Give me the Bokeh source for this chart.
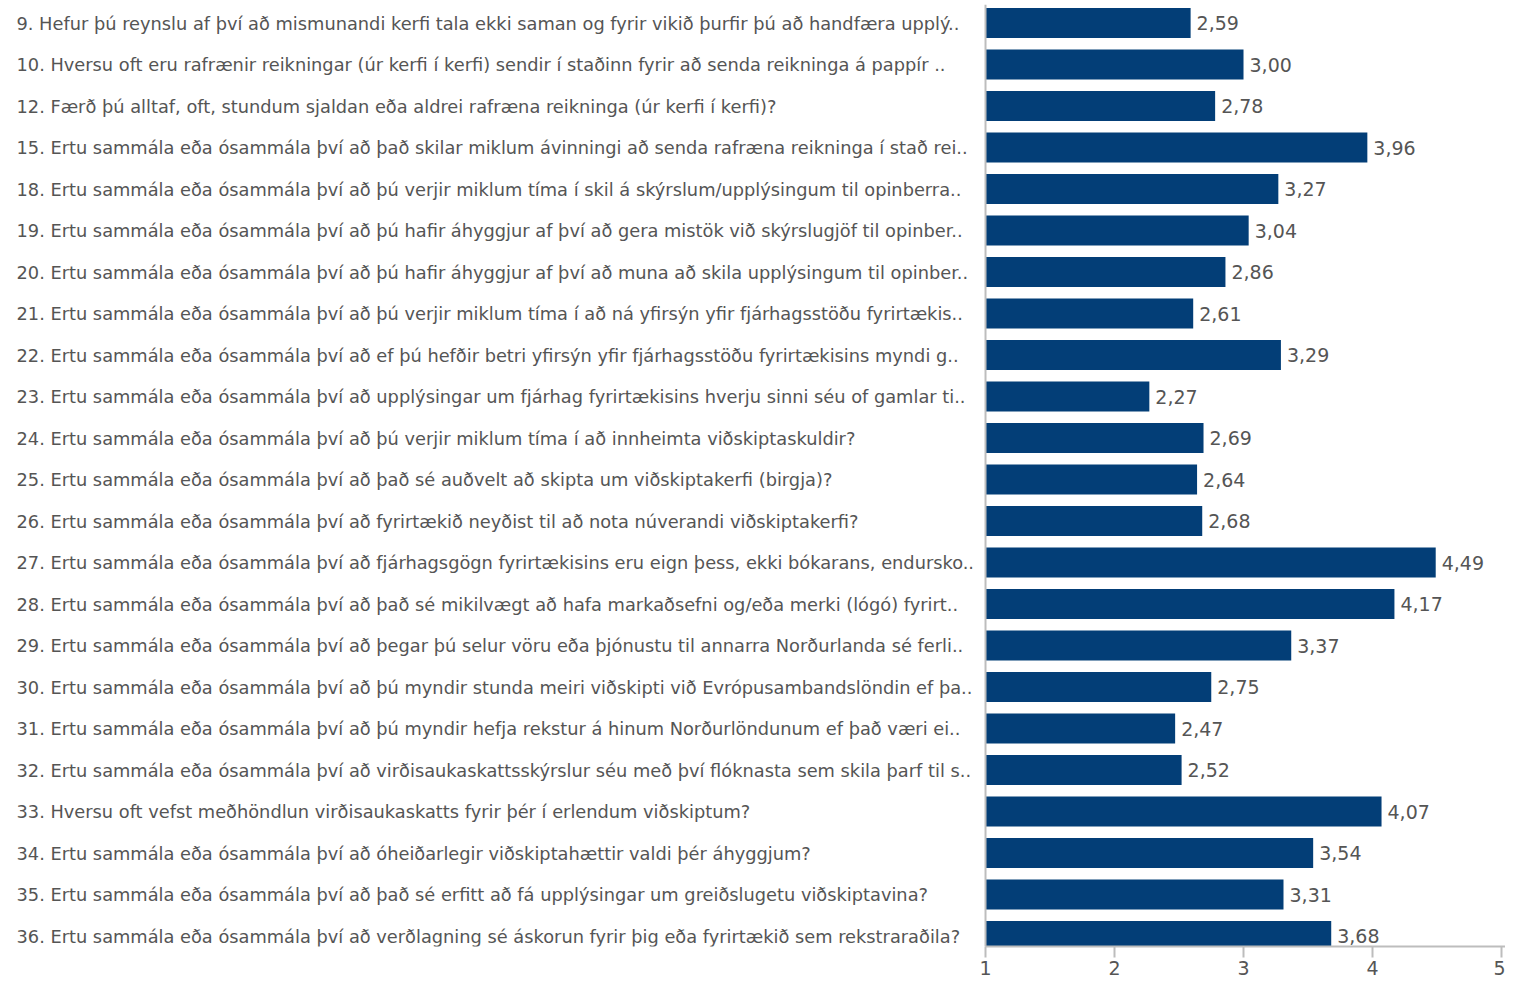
from bokeh.plotting import figure
from bokeh.models import ColumnDataSource, Range1d, FixedTicker, Span
from bokeh.core.properties import value
from bokeh.embed import file_html
from bokeh.resources import INLINE

questions = [
    "9. Hefur þú reynslu af því að mismunandi kerfi tala ekki saman og fyrir vikið þurfir þú að handfæra upplý..",
    "10. Hversu oft eru rafrænir reikningar (úr kerfi í kerfi) sendir í staðinn fyrir að senda reikninga á pappír ..",
    "12. Færð þú alltaf, oft, stundum sjaldan eða aldrei rafræna reikninga (úr kerfi í kerfi)?",
    "15. Ertu sammála eða ósammála því að það skilar miklum ávinningi að senda rafræna reikninga í stað rei..",
    "18. Ertu sammála eða ósammála því að þú verjir miklum tíma í skil á skýrslum/upplýsingum til opinberra..",
    "19. Ertu sammála eða ósammála því að þú hafir áhyggjur af því að gera mistök við skýrslugjöf til opinber..",
    "20. Ertu sammála eða ósammála því að þú hafir áhyggjur af því að muna að skila upplýsingum til opinber..",
    "21. Ertu sammála eða ósammála því að þú verjir miklum tíma í að ná yfirsýn yfir fjárhagsstöðu fyrirtækis..",
    "22. Ertu sammála eða ósammála því að ef þú hefðir betri yfirsýn yfir fjárhagsstöðu fyrirtækisins myndi g..",
    "23. Ertu sammála eða ósammála því að upplýsingar um fjárhag fyrirtækisins hverju sinni séu of gamlar ti..",
    "24. Ertu sammála eða ósammála því að þú verjir miklum tíma í að innheimta viðskiptaskuldir?",
    "25. Ertu sammála eða ósammála því að það sé auðvelt að skipta um viðskiptakerfi (birgja)?",
    "26. Ertu sammála eða ósammála því að fyrirtækið neyðist til að nota núverandi viðskiptakerfi?",
    "27. Ertu sammála eða ósammála því að fjárhagsgögn fyrirtækisins eru eign þess, ekki bókarans, endursko..",
    "28. Ertu sammála eða ósammála því að það sé mikilvægt að hafa markaðsefni og/eða merki (lógó) fyrirt..",
    "29. Ertu sammála eða ósammála því að þegar þú selur vöru eða þjónustu til annarra Norðurlanda sé ferli..",
    "30. Ertu sammála eða ósammála því að þú myndir stunda meiri viðskipti við Evrópusambandslöndin ef þa..",
    "31. Ertu sammála eða ósammála því að þú myndir hefja rekstur á hinum Norðurlöndunum ef það væri ei..",
    "32. Ertu sammála eða ósammála því að virðisaukaskattsskýrslur séu með því flóknasta sem skila þarf til s..",
    "33. Hversu oft vefst meðhöndlun virðisaukaskatts fyrir þér í erlendum viðskiptum?",
    "34. Ertu sammála eða ósammála því að óheiðarlegir viðskiptahættir valdi þér áhyggjum?",
    "35. Ertu sammála eða ósammála því að það sé erfitt að fá upplýsingar um greiðslugetu viðskiptavina?",
    "36. Ertu sammála eða ósammála því að verðlagning sé áskorun fyrir þig eða fyrirtækið sem rekstraraðila?",
]

scores = [2.59, 3.00, 2.78, 3.96, 3.27, 3.04, 2.86, 2.61, 3.29, 2.27, 2.69, 2.64,
          2.68, 4.49, 4.17, 3.37, 2.75, 2.47, 2.52, 4.07, 3.54, 3.31, 3.68]

x_ticks = [1, 2, 3, 4, 5]

FONT = "DejaVu Sans"
TEXT_COLOR = "#555555"
BAR_COLOR = "#033e77"
AXIS_COLOR = "#bdbdbd"

# x range: left part of the frame holds the question texts
X_START = -6.636
X_END = 5.031

pos = list(range(len(questions)))
src = ColumnDataSource(dict(
    y=pos,
    v=scores,
    q=questions,
    base=[x_ticks[0]] * len(scores),
    lx=[X_START] * len(scores),
    lab=[f"{s:.2f}".replace(".", ",") for s in scores],
))

p = figure(
    width=1505, height=982,
    x_range=Range1d(X_START, X_END),
    y_range=Range1d(22.253, -0.446),
    output_backend="svg", toolbar_location=None,
    min_border_left=0, min_border_right=0, min_border_top=4, min_border_bottom=36,
)
p.outline_line_color = None
p.xgrid.visible = False
p.ygrid.visible = False
p.yaxis.visible = False
p.background_fill_color = "white"
p.border_fill_color = "white"

p.hbar(y="y", left="base", right="v", height=0.72, source=src,
       fill_color=BAR_COLOR, line_color=None)

p.text(x="v", y="y", text="lab", source=src, x_offset=6,
       text_baseline="middle", text_align="left",
       text_font=value(FONT), text_font_size="19px", text_color=TEXT_COLOR)

p.text(x="lx", y="y", text="q", source=src, x_offset=16,
       text_baseline="middle", text_align="left",
       text_font=value(FONT), text_font_size="17.8px", text_color=TEXT_COLOR)

# vertical axis line at the bars' base
p.add_layout(Span(location=x_ticks[0], dimension="height",
                  line_color=AXIS_COLOR, line_width=2))

# x axis
p.xaxis.ticker = FixedTicker(ticks=x_ticks)
p.xaxis.bounds = (x_ticks[0], X_END)
p.xaxis.axis_line_color = AXIS_COLOR
p.xaxis.axis_line_width = 2
p.xaxis.major_tick_line_color = AXIS_COLOR
p.xaxis.major_tick_line_width = 2
p.xaxis.major_tick_out = 11
p.xaxis.major_tick_in = 0
p.xaxis.minor_tick_line_color = None
p.xaxis.major_label_standoff = 3
p.xaxis.major_label_text_font = FONT
p.xaxis.major_label_text_font_size = "19px"
p.xaxis.major_label_text_color = TEXT_COLOR

open("out.html", "w").write(file_html(p, INLINE))
